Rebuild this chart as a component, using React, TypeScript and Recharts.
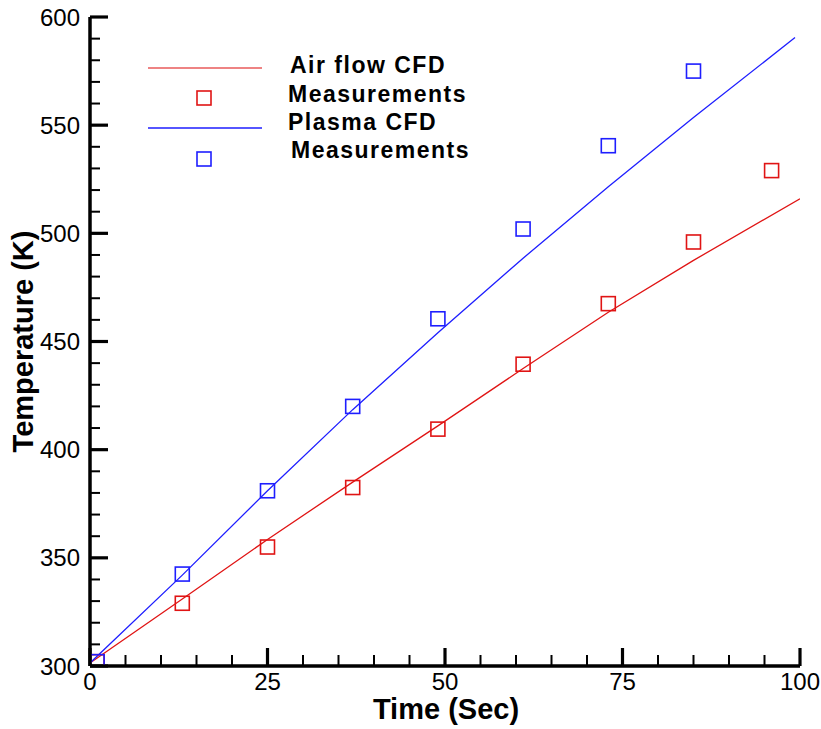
import React from 'react';
import { ScatterChart, Scatter, XAxis, YAxis, Legend } from 'recharts';

// Measurement times (s)
const airTimes = [1, 13, 25, 37, 49, 61, 73, 85, 96];
const airMeasured = [302, 329, 355, 382.5, 409.5, 439.5, 467.5, 496, 529];
const plasmaTimes = [1, 13, 25, 37, 49, 61, 73, 85];
const plasmaMeasured = [302, 342.5, 381, 420, 460.5, 502, 540.5, 575];

// CFD curves
const airCfdTimes = [0, 13, 25, 37, 49, 61, 73, 85, 100];
const airCfdTemps = [301.4, 331, 358.5, 385, 411, 437.5, 463.5, 487.5, 516];
const plasmaCfdTimes = [0, 13, 25, 37, 49, 61, 73, 85, 99.3];
const plasmaCfdTemps = [301.4, 342, 381, 418.5, 454, 488.5, 521.5, 553.5, 590.5];

const xTicks = [0, 5, 10, 15, 20, 25, 30, 35, 40, 45, 50, 55, 60, 65, 70, 75, 80, 85, 90, 95, 100];
const yTicks = [300, 310, 320, 330, 340, 350, 360, 370, 380, 390, 400, 410, 420, 430, 440, 450, 460, 470, 480, 490, 500, 510, 520, 530, 540, 550, 560, 570, 580, 590, 600];

const legendLabels = ['Air flow CFD', 'Measurements', 'Plasma CFD', 'Measurements'];

const RED = '#e01414';
const BLUE = '#1e1eff';
const FONT = '"Liberation Sans", Arial, Helvetica, sans-serif';

const zip = (xs: number[], ys: number[]) => xs.map((t, i) => ({ t, T: ys[i] }));

const airMeasData = zip(airTimes, airMeasured);
const plasmaMeasData = zip(plasmaTimes, plasmaMeasured);
const airCfdData = zip(airCfdTimes, airCfdTemps);
const plasmaCfdData = zip(plasmaCfdTimes, plasmaCfdTemps);

const square = (color: string) => (props: any) => {
  const { cx, cy } = props;
  if (cx == null || cy == null) return <g />;
  return <rect x={cx - 7} y={cy - 7} width={14} height={14} fill="none" stroke={color} strokeWidth={1.6} />;
};

const noShape = () => <g />;

const XTick = (props: any) => {
  const { x, y, payload } = props;
  const v = payload.value;
  const major = v % 25 === 0;
  return (
    <g>
      <line x1={x} x2={x} y1={y} y2={y - (major ? 18 : 11)} stroke="#000" strokeWidth={major ? 3.2 : 2} />
      {major && (
        <text x={x} y={y + 24} textAnchor="middle" fontSize={24} fontFamily={FONT} fill="#000">
          {v}
        </text>
      )}
    </g>
  );
};

const YTick = (props: any) => {
  const { x, y, payload } = props;
  const v = payload.value;
  const major = v % 50 === 0;
  return (
    <g>
      <line x1={x} x2={x + (major ? 18 : 10)} y1={y} y2={y} stroke="#000" strokeWidth={major ? 3.2 : 2} />
      {major && (
        <text x={x - 10} y={y} dy="0.36em" textAnchor="end" fontSize={24} fontFamily={FONT} fill="#000">
          {v}
        </text>
      )}
    </g>
  );
};

const XTitle = (props: any) => {
  const vb = props.viewBox || {};
  return (
    <text x={vb.x + vb.width / 2 + 1} y={vb.y + 53} textAnchor="middle" fontSize={29} fontWeight="bold" fontFamily={FONT} fill="#000">
      Time (Sec)
    </text>
  );
};

const YTitle = (props: any) => {
  const vb = props.viewBox || {};
  const cx = vb.x + 3;
  const cy = vb.y + vb.height / 2;
  return (
    <text x={cx} y={cy} transform={`rotate(-90, ${cx}, ${cy})`} textAnchor="middle" fontSize={29} fontWeight="bold" fontFamily={FONT} fill="#000">
      Temperature (K)
    </text>
  );
};

const LegendContent = () => {
  const ox = 140;
  const oy = 50;
  const textStyle = { fontSize: 23, fontWeight: 'bold' as const, fontFamily: FONT, letterSpacing: '1.5px' };
  return (
    <svg width={400} height={130} style={{ display: 'block' }}>
      <line x1={148 - ox} x2={262 - ox} y1={68 - oy} y2={68 - oy} stroke={RED} strokeWidth={1.5} opacity={0.7} />
      <rect x={204 - ox - 7} y={98 - oy - 7} width={14} height={14} fill="none" stroke={RED} strokeWidth={1.6} />
      <line x1={148 - ox} x2={262 - ox} y1={128 - oy} y2={128 - oy} stroke={BLUE} strokeWidth={1.5} />
      <rect x={204 - ox - 7} y={159 - oy - 7} width={14} height={14} fill="none" stroke={BLUE} strokeWidth={1.6} />
      <text x={290 - ox} y={73 - oy} {...textStyle}>{legendLabels[0]}</text>
      <text x={288 - ox} y={102 - oy} {...textStyle}>{legendLabels[1]}</text>
      <text x={288 - ox} y={130 - oy} {...textStyle}>{legendLabels[2]}</text>
      <text x={291 - ox} y={158 - oy} {...textStyle}>{legendLabels[3]}</text>
    </svg>
  );
};

export default function App() {
  return (
    <div style={{ position: 'absolute', left: 0, top: 0, width: 821, height: 729, background: '#fff' }}>
      <ScatterChart width={821} height={729} margin={{ top: 17, right: 21, bottom: 33, left: 30 }}>
        <XAxis
          type="number"
          dataKey="t"
          domain={[0, 100]}
          ticks={xTicks}
          interval={0}
          tickSize={0}
          tickMargin={0}
          tickLine={false}
          tick={<XTick />}
          axisLine={{ stroke: '#000', strokeWidth: 3.5 }}
          height={30}
          allowDataOverflow
          label={<XTitle />}
        />
        <YAxis
          type="number"
          dataKey="T"
          domain={[300, 600]}
          ticks={yTicks}
          interval={0}
          tickSize={0}
          tickMargin={0}
          tickLine={false}
          tick={<YTick />}
          axisLine={{ stroke: '#000', strokeWidth: 3.5 }}
          width={60}
          allowDataOverflow
          label={<YTitle />}
        />
        <Legend verticalAlign="middle" align="center" layout="horizontal" content={<LegendContent />} wrapperStyle={{ left: 140, top: 50, width: 400, height: 130 }} />
        <Scatter data={airCfdData} line={{ stroke: RED, strokeWidth: 1.3 }} lineType="joint" shape={noShape} isAnimationActive={false} />
        <Scatter data={plasmaCfdData} line={{ stroke: BLUE, strokeWidth: 1.3 }} lineType="joint" shape={noShape} isAnimationActive={false} />
        <Scatter data={airMeasData} shape={square(RED)} isAnimationActive={false} />
        <Scatter data={plasmaMeasData} shape={square(BLUE)} isAnimationActive={false} />
      </ScatterChart>
    </div>
  );
}
